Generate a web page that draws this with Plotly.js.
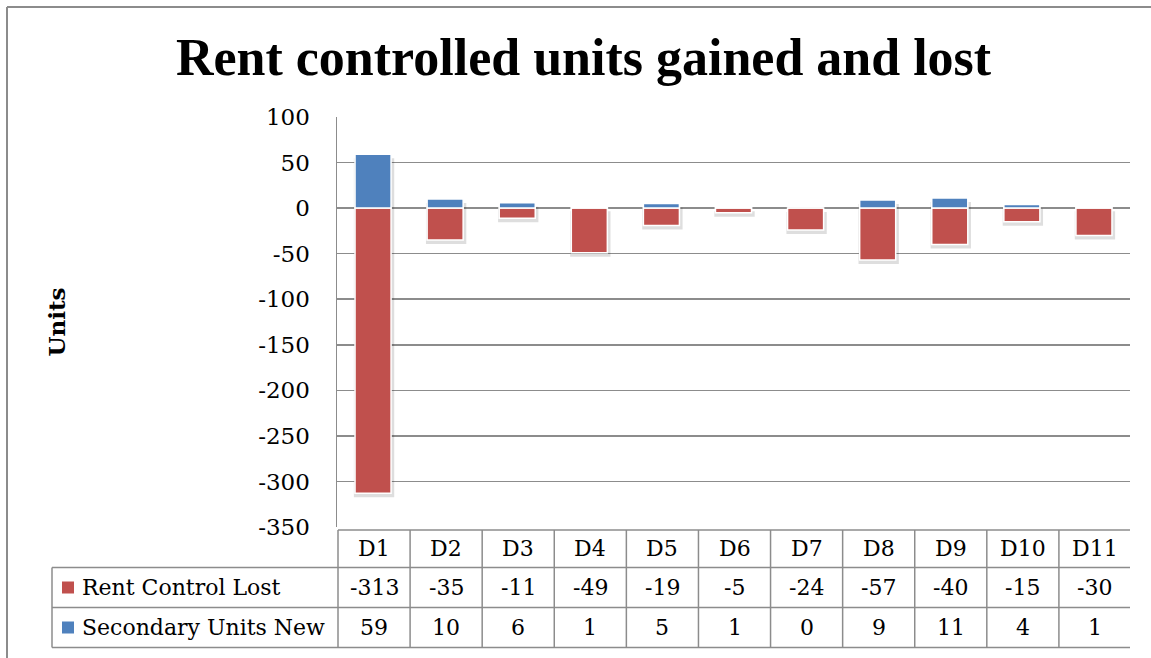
<!DOCTYPE html>
<html>
<head>
<meta charset="utf-8">
<script src="https://cdn.plot.ly/plotly-3.0.1.min.js"></script>
<style>html,body{margin:0;padding:0;background:#fff;}#chart{width:1151px;height:658px;}</style>
</head>
<body>
<div id="chart"></div>
<script>
const categories = ["D1","D2","D3","D4","D5","D6","D7","D8","D9","D10","D11"];
const rentControlLost = [-313,-35,-11,-49,-19,-5,-24,-57,-40,-15,-30];
const secondaryUnitsNew = [59,10,6,1,5,1,0,9,11,4,1];
const seriesNames = ["Rent Control Lost","Secondary Units New"];
const seriesColors = ["#C0504D","#4F81BD"];
const yTicks = [100,50,0,-50,-100,-150,-200,-250,-300,-350];

const TITLE_FONT = "'Liberation Serif', 'Times New Roman', serif";
const FONT = "'DejaVu Serif', serif";
const GRID = "#8c8c8c";

// layout geometry (pixels)
const W = 1151, H = 658, L = 337, R = 21, T = 117, B = 131;
const plotH = H - T - B, plotW = W - L - R;
const py = px => (H - B - px) / plotH;   // pixel y -> paper y
const pxx = px => (px - L) / plotW;       // pixel x -> paper x
const yMin = -350, yMax = 100;
const shadowShift = 4 * (yMax - yMin) / plotH;

const traces = [
  // soft shadows (drawn on base axes, beneath the bars)
  {type:"bar", x:categories, y:rentControlLost, width:0.56, xaxis:"x", yaxis:"y",
   marker:{color:"rgba(0,0,0,0.13)", line:{width:0}}, hoverinfo:"skip"},
  {type:"bar", x:categories, y:secondaryUnitsNew, width:0.56, xaxis:"x", yaxis:"y",
   marker:{color:"rgba(0,0,0,0.13)", line:{width:0}}, hoverinfo:"skip"},
  // actual bars
  {type:"bar", name:seriesNames[0], x:categories, y:rentControlLost, width:0.5, xaxis:"x2", yaxis:"y2",
   marker:{color:seriesColors[0], line:{color:"#ffffff", width:1.5}}},
  {type:"bar", name:seriesNames[1], x:categories, y:secondaryUnitsNew, width:0.5, xaxis:"x2", yaxis:"y2",
   marker:{color:seriesColors[1], line:{color:"#ffffff", width:1.5}}}
];

const n = categories.length;
const rowLines = [530, 567.5, 607.5, 647.5];
const shapes = [];
shapes.push({type:"line", xref:"x", yref:"paper", x0:-0.5, x1:n-0.5, y0:py(rowLines[0]), y1:py(rowLines[0]), line:{color:GRID,width:1.5}});
for (let i = 1; i < rowLines.length; i++) {
  shapes.push({type:"line", xref:"paper", yref:"paper", x0:pxx(52), x1:1, y0:py(rowLines[i]), y1:py(rowLines[i]), line:{color:GRID,width:1.5}});
}
for (let k = 0; k <= n; k++) {
  shapes.push({type:"line", xref:"x", yref:"paper", x0:k-0.5, x1:k-0.5, y0:py(rowLines[0]), y1:py(rowLines[3]), line:{color:GRID,width:1.5}});
}
shapes.push({type:"line", xref:"paper", yref:"paper", x0:pxx(52), x1:pxx(52), y0:py(rowLines[1]), y1:py(rowLines[3]), line:{color:GRID,width:1.5}});
// outer chart border (top and left)
shapes.push({type:"line", xref:"paper", yref:"paper", x0:pxx(7), x1:pxx(1160), y0:py(7), y1:py(7), line:{color:GRID,width:2}});
shapes.push({type:"line", xref:"paper", yref:"paper", x0:pxx(7), x1:pxx(7), y0:py(7), y1:py(670), line:{color:GRID,width:2}});
const rowCenters = [548.5, 587.5, 627.5];
seriesColors.forEach((c, i) => {
  const cy = rowCenters[i+1];
  shapes.push({type:"rect", xref:"paper", yref:"paper", x0:pxx(62), x1:pxx(74), y0:py(cy+6), y1:py(cy-6), fillcolor:c, line:{width:0}});
});

const TF = {family:FONT,size:22,color:"#000"};
const annotations = [];
categories.forEach((c, k) => {
  annotations.push({xref:"x", yref:"paper", x:c, y:py(rowCenters[0]), text:c, showarrow:false, font:TF, xanchor:"center", yanchor:"middle"});
  annotations.push({xref:"x", yref:"paper", x:c, y:py(rowCenters[1]), text:String(rentControlLost[k]), showarrow:false, font:TF, xanchor:"center", yanchor:"middle"});
  annotations.push({xref:"x", yref:"paper", x:c, y:py(rowCenters[2]), text:String(secondaryUnitsNew[k]), showarrow:false, font:TF, xanchor:"center", yanchor:"middle"});
});
seriesNames.forEach((s, i) => {
  annotations.push({xref:"paper", yref:"paper", x:pxx(80), y:py(rowCenters[i+1]), text:s, showarrow:false, font:TF, xanchor:"left", yanchor:"middle"});
});

const layout = {
  width:W, height:H,
  margin:{l:L, r:R, t:T, b:B, pad:0},
  paper_bgcolor:"#fff", plot_bgcolor:"#fff",
  barmode:"relative",
  showlegend:false,
  title:{text:"<b>Rent controlled units gained and lost</b>", x:0.507, xanchor:"center", y:1-57/H, yanchor:"middle", font:{family:TITLE_FONT,size:52,color:"#000"}},
  xaxis:{range:[-0.5 - 1/72, n-0.5 - 1/72], showticklabels:false, showgrid:false, zeroline:false, showline:false, ticks:"", fixedrange:true},
  xaxis2:{overlaying:"x", range:[-0.5, n-0.5], showticklabels:false, showgrid:false, zeroline:false, showline:false, ticks:"", fixedrange:true},
  yaxis:{range:[yMin + shadowShift, yMax + shadowShift], showticklabels:false, showgrid:false, zeroline:false, showline:false, ticks:"", fixedrange:true},
  yaxis2:{overlaying:"y", side:"left", range:[yMin,yMax], tickvals:yTicks, ticktext:yTicks.map(String), showgrid:true, gridcolor:GRID, gridwidth:1.5,
         zeroline:true, zerolinecolor:GRID, zerolinewidth:1.5, layer:"below traces",
         showline:true, linecolor:GRID, linewidth:1.5, ticks:"", ticklabelstandoff:21,
         tickfont:{family:FONT,size:23,color:"#000"},
         title:{text:"<b>Units</b>", standoff:186, font:{family:FONT,size:23,color:"#000"}}},
  shapes:shapes, annotations:annotations
};

Plotly.newPlot("chart", traces, layout, {displayModeBar:false, staticPlot:true});
</script>
</body>
</html>
